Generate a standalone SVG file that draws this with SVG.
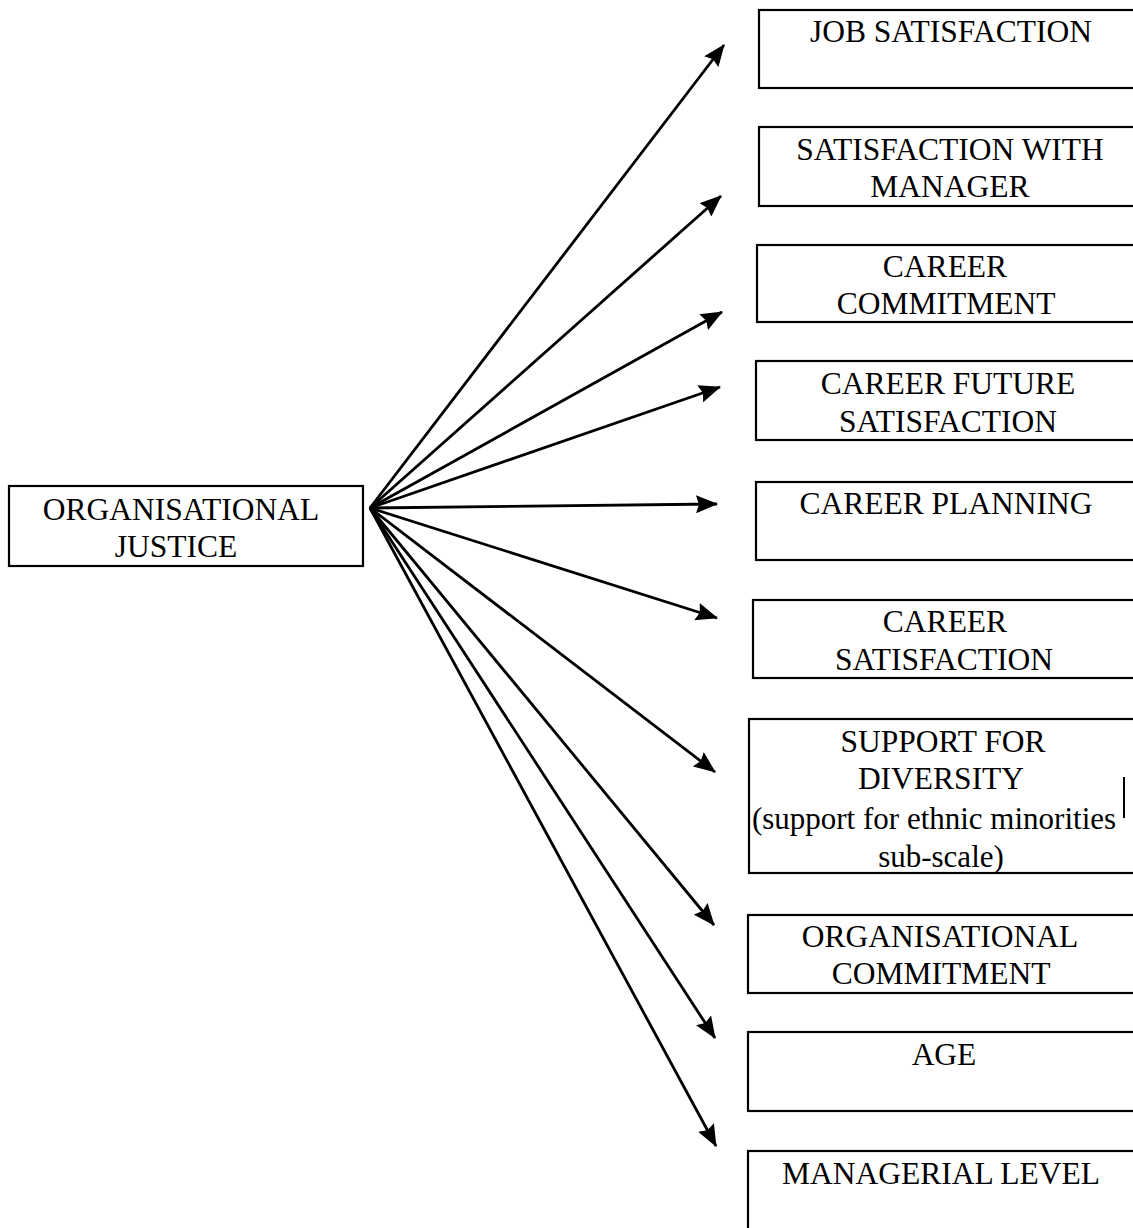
<svg xmlns="http://www.w3.org/2000/svg" width="1133" height="1228" viewBox="0 0 1133 1228">
  <style>
    .box { fill: #ffffff; stroke: #000000; stroke-width: 2.2; }
    .lbl { font-family: "Liberation Serif", "Times New Roman", serif; font-size: 31.5px; fill: #000000; text-anchor: middle; }
    .sub { font-size: 31px; }
    .link { stroke: #000000; stroke-width: 2.8; fill: none; marker-end: url(#head); }
  </style>
  <defs>
    <marker id="head" viewBox="0 0 22 18" refX="21" refY="9" markerWidth="22" markerHeight="18" markerUnits="userSpaceOnUse" orient="auto">
      <path d="M0,0 L22,9 L0,18 L3,9 z" fill="#000000"/>
    </marker>
  </defs>
  <rect x="0" y="0" width="1133" height="1228" fill="#ffffff"/>

  <!-- source node -->
  <g id="organisational-justice">
    <rect class="box" x="9" y="486" width="354" height="80"/>
    <text class="lbl" x="181" y="520">ORGANISATIONAL</text>
    <text class="lbl" x="176" y="557">JUSTICE</text>
  </g>

  <!-- outcome nodes -->
  <g id="job-satisfaction">
    <rect class="box" x="759" y="10" width="380" height="78"/>
    <text class="lbl" x="951" y="42">JOB SATISFACTION</text>
  </g>
  <g id="satisfaction-with-manager">
    <rect class="box" x="759" y="127" width="380" height="79"/>
    <text class="lbl" x="950" y="160">SATISFACTION WITH</text>
    <text class="lbl" x="950" y="197">MANAGER</text>
  </g>
  <g id="career-commitment">
    <rect class="box" x="757" y="245" width="380" height="77"/>
    <text class="lbl" x="945" y="277">CAREER</text>
    <text class="lbl" x="946" y="314">COMMITMENT</text>
  </g>
  <g id="career-future-satisfaction">
    <rect class="box" x="756" y="361" width="380" height="79"/>
    <text class="lbl" x="948" y="394">CAREER FUTURE</text>
    <text class="lbl" x="948" y="432">SATISFACTION</text>
  </g>
  <g id="career-planning">
    <rect class="box" x="756" y="482" width="380" height="78"/>
    <text class="lbl" x="946" y="514">CAREER PLANNING</text>
  </g>
  <g id="career-satisfaction">
    <rect class="box" x="753" y="600" width="384" height="78"/>
    <text class="lbl" x="945" y="632">CAREER</text>
    <text class="lbl" x="944" y="670">SATISFACTION</text>
  </g>
  <g id="support-for-diversity">
    <rect class="box" x="749" y="719" width="390" height="154"/>
    <line x1="1124" y1="777" x2="1124" y2="818" stroke="#000000" stroke-width="2"/>
    <text class="lbl" x="943" y="752">SUPPORT FOR</text>
    <text class="lbl" x="941" y="789">DIVERSITY</text>
    <text class="lbl sub" x="934" y="829">(support for ethnic minorities</text>
    <text class="lbl sub" x="941" y="867">sub-scale)</text>
  </g>
  <g id="organisational-commitment">
    <rect class="box" x="748" y="915" width="390" height="78"/>
    <text class="lbl" x="940" y="947">ORGANISATIONAL</text>
    <text class="lbl" x="941" y="984">COMMITMENT</text>
  </g>
  <g id="age">
    <rect class="box" x="748" y="1032" width="390" height="79"/>
    <text class="lbl" x="944" y="1065">AGE</text>
  </g>
  <g id="managerial-level">
    <rect class="box" x="748" y="1151" width="390" height="90"/>
    <text class="lbl" x="941" y="1184">MANAGERIAL LEVEL</text>
  </g>

  <!-- connectors fanning out from the source node -->
  <g id="connectors">
    <line class="link" x1="370" y1="508" x2="724" y2="45"/>
    <line class="link" x1="370" y1="508" x2="721" y2="196"/>
    <line class="link" x1="370" y1="508" x2="722" y2="312"/>
    <line class="link" x1="370" y1="508" x2="720" y2="387"/>
    <line class="link" x1="370" y1="508" x2="717" y2="504"/>
    <line class="link" x1="370" y1="508" x2="717" y2="618"/>
    <line class="link" x1="370" y1="508" x2="715" y2="772"/>
    <line class="link" x1="370" y1="508" x2="714" y2="925"/>
    <line class="link" x1="370" y1="508" x2="715" y2="1038"/>
    <line class="link" x1="370" y1="508" x2="716" y2="1146"/>
  </g>
</svg>
